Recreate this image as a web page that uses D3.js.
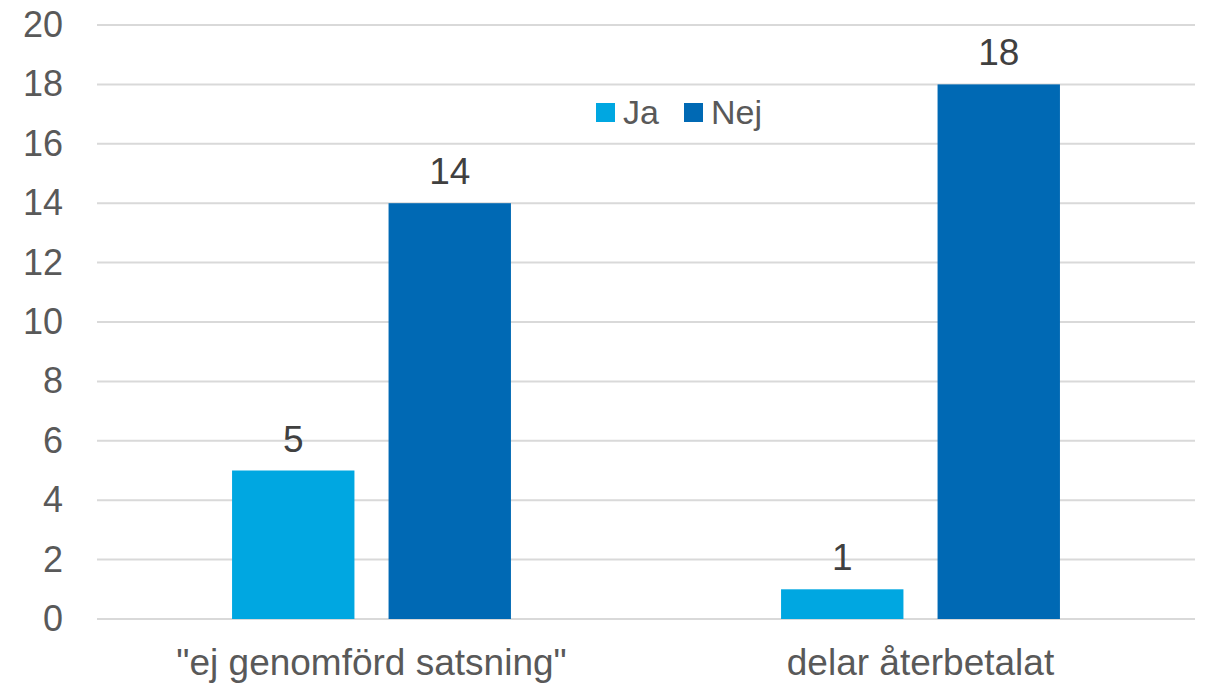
<!DOCTYPE html>
<html>
<head>
<meta charset="utf-8">
<script src="https://cdnjs.cloudflare.com/ajax/libs/d3/7.8.5/d3.min.js"></script>
<style>
    html, body { margin: 0; padding: 0; background: #fff; }
    svg { display: block; font-family: "Liberation Sans", Arial, sans-serif; }
</style>
</head>
<body>
<div class="chart"></div>
<script>
var categories = ['"ej genomförd satsning"', 'delar återbetalat'];
var seriesNames = ['Ja', 'Nej'];
var jaValues = [5, 1];
var nejValues = [14, 18];
var yTicks = [0, 2, 4, 6, 8, 10, 12, 14, 16, 18, 20];
var colors = ['#00A7E1', '#0069B4'];

drawChart();

function drawChart() {
    var width = 1206, height = 685;
    var margin = { top: 25, right: 11, bottom: 66, left: 97 };

    var svg = d3.select('.chart')
        .append('svg')
        .attr('width', width)
        .attr('height', height);

    var y = d3.scaleLinear()
        .domain([0, 20])
        .range([height - margin.bottom, margin.top]);

    var x0 = d3.scaleBand()
        .domain(categories)
        .range([margin.left, width - margin.right])
        .paddingInner(0.492)
        .paddingOuter(0.246);

    var x1 = d3.scaleBand()
        .domain(seriesNames)
        .range([0, x0.bandwidth()])
        .paddingInner(0.218);

    // gridlines
    svg.append('g')
        .selectAll('line')
        .data(yTicks)
        .enter()
        .append('line')
        .attr('x1', margin.left)
        .attr('x2', width - margin.right)
        .attr('y1', function (d) { return y(d); })
        .attr('y2', function (d) { return y(d); })
        .attr('stroke', '#D9D9D9')
        .attr('stroke-width', 2);

    // y axis labels
    var yAxis = d3.axisLeft(y).tickValues(yTicks).tickSize(0).tickPadding(0);
    var yg = svg.append('g')
        .attr('transform', 'translate(63,0)')
        .call(yAxis);
    yg.select('.domain').remove();
    yg.selectAll('text')
        .attr('font-size', 36)
        .attr('fill', '#595959')
        .attr('font-family', '"Liberation Sans", Arial, sans-serif');

    // x axis labels
    var xAxis = d3.axisBottom(x0).tickSize(0).tickPadding(0);
    var xg = svg.append('g')
        .attr('transform', 'translate(0,' + (height - margin.bottom) + ')')
        .call(xAxis);
    xg.select('.domain').remove();
    xg.selectAll('text')
        .attr('dy', null)
        .attr('y', 56)
        .attr('font-size', 37)
        .attr('fill', '#595959')
        .attr('font-family', '"Liberation Sans", Arial, sans-serif');

    var rows = categories.map(function (c, i) {
        return { cat: c, values: [
            { key: 'Ja', value: jaValues[i] },
            { key: 'Nej', value: nejValues[i] }
        ] };
    });

    var groups = svg.append('g')
        .selectAll('g')
        .data(rows)
        .enter()
        .append('g')
        .attr('transform', function (d) { return 'translate(' + x0(d.cat) + ',0)'; });

    groups.selectAll('rect')
        .data(function (d) { return d.values; })
        .enter()
        .append('rect')
        .attr('x', function (d) { return x1(d.key); })
        .attr('y', function (d) { return y(d.value); })
        .attr('width', x1.bandwidth())
        .attr('height', function (d) { return y(0) - y(d.value); })
        .attr('fill', function (d, i) { return colors[i]; });

    groups.selectAll('text')
        .data(function (d) { return d.values; })
        .enter()
        .append('text')
        .attr('x', function (d) { return x1(d.key) + x1.bandwidth() / 2; })
        .attr('y', function (d) { return y(d.value) - 19; })
        .attr('text-anchor', 'middle')
        .attr('font-size', 37)
        .attr('fill', '#404040')
        .text(function (d) { return d.value; });

    // legend
    var legendX = [596, 684];
    var legend = svg.append('g')
        .selectAll('g')
        .data(seriesNames)
        .enter()
        .append('g')
        .attr('transform', function (d, i) { return 'translate(' + legendX[i] + ',103)'; });

    legend.append('rect')
        .attr('width', 19)
        .attr('height', 19)
        .attr('fill', function (d, i) { return colors[i]; });

    legend.append('text')
        .attr('x', 27)
        .attr('y', 21)
        .attr('font-size', 34)
        .attr('fill', '#595959')
        .text(function (d) { return d; });
}
</script>
</body>
</html>
